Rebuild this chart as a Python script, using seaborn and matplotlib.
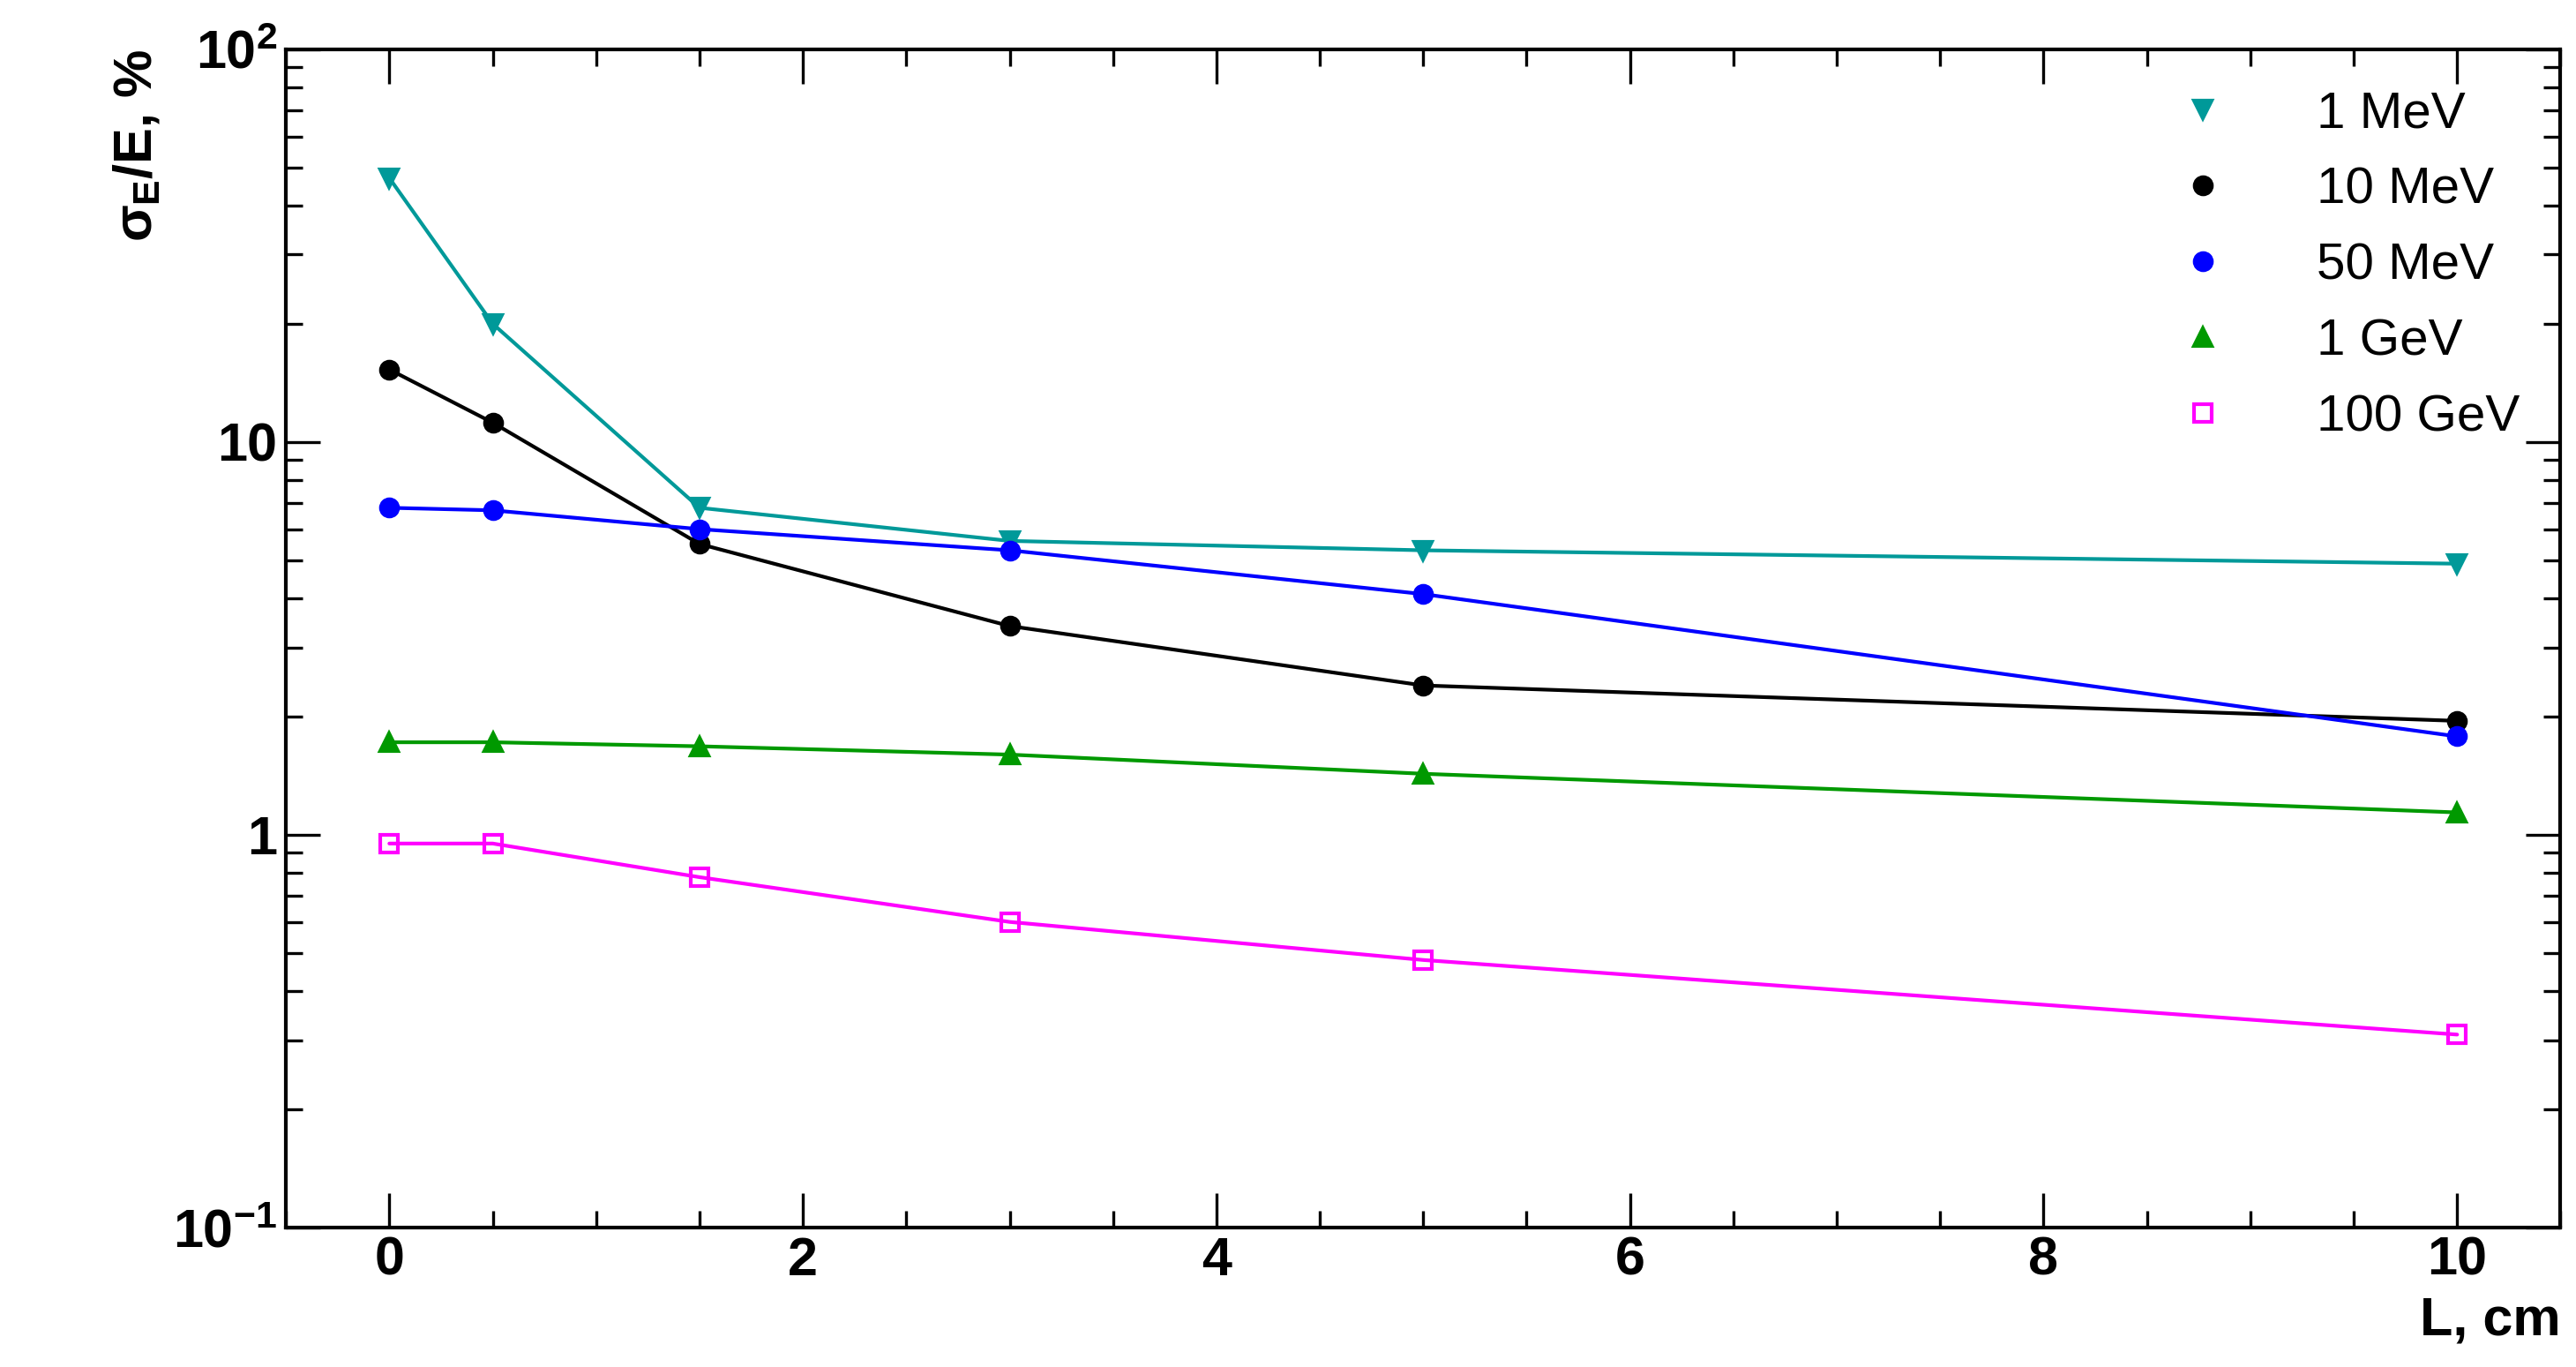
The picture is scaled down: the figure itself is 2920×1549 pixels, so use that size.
import matplotlib
matplotlib.use("Agg")
import matplotlib.pyplot as plt
import seaborn as sns
import pandas as pd
from matplotlib.ticker import FixedLocator, FixedFormatter, LogLocator, NullFormatter, MultipleLocator

sns.set_style("ticks")
plt.rcParams['font.family'] = ['Liberation Sans', 'DejaVu Sans']
plt.rcParams['mathtext.fontset'] = 'custom'
plt.rcParams['mathtext.rm'] = 'Liberation Sans:bold'
plt.rcParams['mathtext.it'] = 'Liberation Sans:bold'
plt.rcParams['text.color'] = 'black'
plt.rcParams['xtick.color'] = 'black'
plt.rcParams['ytick.color'] = 'black'
plt.rcParams['axes.edgecolor'] = 'black'
plt.rcParams['axes.labelcolor'] = 'black'

L = [0, 0.5, 1.5, 3, 5, 10]
series = {
    "1 MeV":   [47, 20, 6.8, 5.6, 5.3, 4.9],
    "10 MeV":  [15.3, 11.2, 5.5, 3.4, 2.4, 1.95],
    "50 MeV":  [6.8, 6.7, 6.0, 5.3, 4.1, 1.78],
    "1 GeV":   [1.72, 1.72, 1.68, 1.6, 1.43, 1.14],
    "100 GeV": [0.95, 0.95, 0.78, 0.6, 0.48, 0.31],
}
colors = {"1 MeV": "#009999", "10 MeV": "black", "50 MeV": "#0000ff",
          "1 GeV": "#009900", "100 GeV": "#ff00ff"}
markers = {"1 MeV": "v", "10 MeV": "o", "50 MeV": "o", "1 GeV": "^", "100 GeV": "s"}

df = pd.DataFrame([(k, x, y) for k, v in series.items() for x, y in zip(L, v)],
                  columns=["E", "L", "res"])

fig = plt.figure(figsize=(14.6, 7.745), dpi=200)
ax = fig.add_axes([0.111, 0.102, 0.883, 0.862])
for name in series:
    d = df[df.E == name]
    sns.lineplot(data=d, x="L", y="res", ax=ax, color=colors[name], lw=1.5, legend=False)
    face = "none" if name == "100 GeV" else colors[name]
    ax.plot(d.L, d.res, ls="none", marker=markers[name], ms=7, mfc=face, mec=colors[name],
            mew=1.5, label=name)

ax.set_yscale("log")
ax.set_xlim(-0.5, 10.5)
ax.set_ylim(0.1, 100)
ax.yaxis.set_major_locator(FixedLocator([0.1, 1, 10, 100]))
ax.yaxis.set_major_formatter(FixedFormatter([r"$10^{-1}$", "1", "10", r"$10^{2}$"]))
ax.yaxis.set_minor_locator(LogLocator(subs=range(2, 10)))
ax.yaxis.set_minor_formatter(NullFormatter())
ax.xaxis.set_major_locator(MultipleLocator(2))
ax.xaxis.set_minor_locator(MultipleLocator(0.5))
ax.tick_params(which="both", direction="in", top=True, right=True, labelsize=22, width=1.2)
ax.tick_params(which="major", length=14)
ax.tick_params(which="minor", length=7)
for lab in ax.get_xticklabels() + ax.get_yticklabels():
    lab.set_fontweight("bold")
for s in ax.spines.values():
    s.set_linewidth(1.5)
ax.set_xlabel("L, cm", fontsize=22, fontweight="bold", loc="right")
ax.set_ylabel(r"$\sigma_E$/E, %", fontsize=22, fontweight="bold", loc="top")
ax.legend(frameon=False, fontsize=21, loc="upper right", handletextpad=1.2,
          labelspacing=0.55, borderaxespad=0.4)
fig.savefig("out.png", dpi=200)
